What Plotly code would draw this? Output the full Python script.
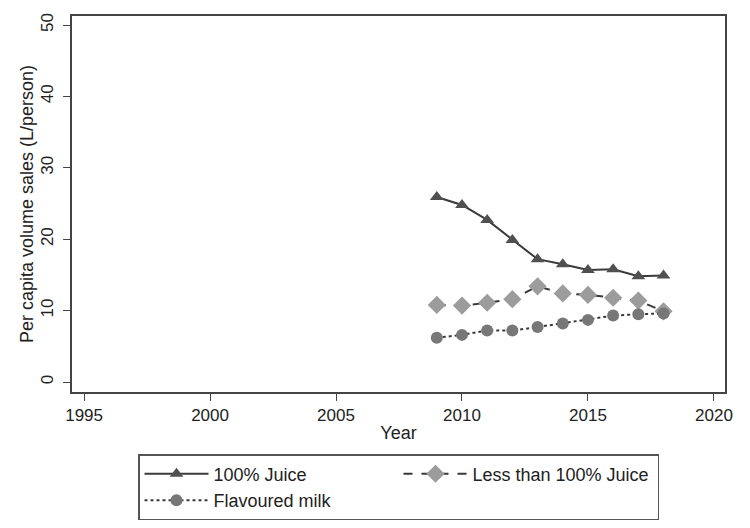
import plotly.graph_objects as go

years = [2009, 2010, 2011, 2012, 2013, 2014, 2015, 2016, 2017, 2018]
juice_100 = [25.9, 24.8, 22.7, 19.9, 17.2, 16.5, 15.7, 15.8, 14.8, 14.9]
juice_less = [10.8, 10.7, 11.1, 11.6, 13.4, 12.4, 12.2, 11.8, 11.4, 9.9]
flav_milk = [6.2, 6.6, 7.2, 7.2, 7.7, 8.2, 8.7, 9.3, 9.5, 9.6]

x_ticks = [1995, 2000, 2005, 2010, 2015, 2020]
y_ticks = [0, 10, 20, 30, 40, 50]

fig = go.Figure()
fig.add_trace(go.Scatter(
    x=years, y=juice_100, name="100% Juice", mode="lines+markers",
    line=dict(color="#3a3a3a", width=2, dash="solid"),
    marker=dict(symbol="triangle-up", size=12, color="#505050"),
))
fig.add_trace(go.Scatter(
    x=years, y=juice_less, name="Less than 100% Juice", mode="lines+markers",
    line=dict(color="#3a3a3a", width=2, dash="dash"),
    marker=dict(symbol="diamond", size=14, color="#9c9c9c"),
))
fig.add_trace(go.Scatter(
    x=years, y=flav_milk, name="Flavoured milk", mode="lines+markers",
    line=dict(color="#3a3a3a", width=2, dash="dot"),
    marker=dict(symbol="circle", size=12, color="#777777"),
))

axis_common = dict(
    showgrid=False, zeroline=False, showline=True, mirror=True,
    linecolor="#444444", linewidth=1.5, ticks="outside", ticklen=7,
    tickcolor="#444444", tickfont=dict(size=17, color="#222222"),
    automargin=False,
)

fig.update_layout(
    width=750, height=528,
    paper_bgcolor="white", plot_bgcolor="white",
    font=dict(family="Liberation Sans, Arial, sans-serif", color="#222222"),
    margin=dict(l=64, r=33, t=8, b=144),
    xaxis=dict(range=[1994.52, 2020.44], tickvals=x_ticks,
               title=dict(text="Year", font=dict(size=18), standoff=2), **axis_common),
    yaxis=dict(range=[-1.4, 51.26], tickvals=y_ticks, tickangle=-90,
               ticklabelstandoff=3,
               title=dict(text="Per capita volume sales (L/person)", font=dict(size=18), standoff=0),
               **axis_common),
    legend=dict(
        orientation="h", x=0.5, xanchor="center", y=-0.165, yanchor="top",
        bordercolor="#555555", borderwidth=1.5, font=dict(size=18),
        entrywidth=180, itemwidth=64, tracegroupgap=0,
    ),
)

fig.write_html("out.html")
